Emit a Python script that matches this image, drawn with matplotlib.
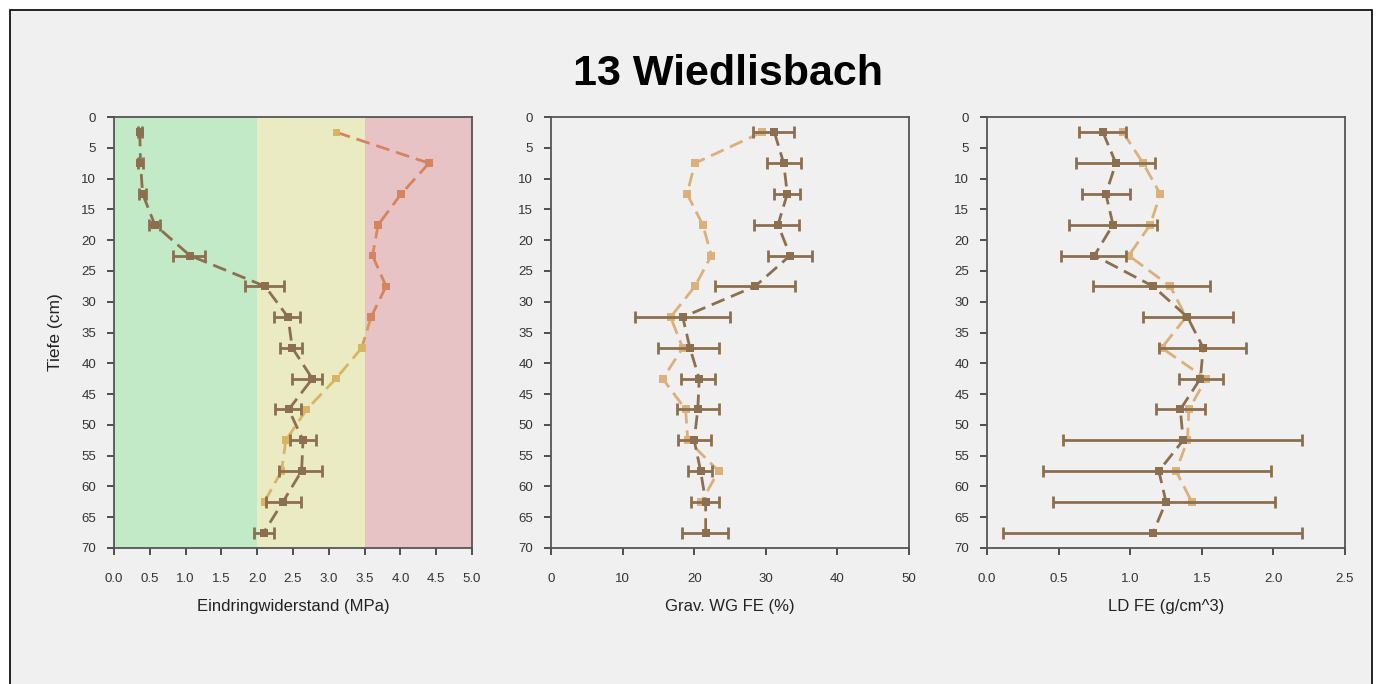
import numpy as np
import matplotlib
matplotlib.use("Agg")
import matplotlib.pyplot as plt
from matplotlib.collections import LineCollection
from matplotlib.colors import LinearSegmentedColormap, Normalize
from matplotlib.patches import Rectangle

plt.rcParams['font.family'] = ['Liberation Sans', 'DejaVu Sans']

title = "13 Wiedlisbach"
depth = [2.5, 7.5, 12.5, 17.5, 22.5, 27.5, 32.5, 37.5, 42.5, 47.5, 52.5, 57.5, 62.5, 67.5]

# Panel 1: Eindringwiderstand (MPa)
ew_mean = [0.36, 0.37, 0.40, 0.57, 1.06, 2.11, 2.43, 2.49, 2.77, 2.44, 2.64, 2.62, 2.36, 2.09]
ew_lo = [0.33, 0.34, 0.35, 0.49, 0.82, 1.83, 2.23, 2.32, 2.48, 2.25, 2.46, 2.31, 2.12, 1.95]
ew_hi = [0.39, 0.40, 0.45, 0.64, 1.27, 2.37, 2.60, 2.63, 2.91, 2.61, 2.82, 2.90, 2.61, 2.23]
ew_ref = [3.11, 4.40, 4.01, 3.69, 3.61, 3.80, 3.59, 3.46, 3.10, 2.69, 2.40, 2.34, 2.10]
ew_bands = [0.0, 2.0, 3.5, 5.0]
ew_band_colors = ["#c3eac7", "#ebebc3", "#e7c3c5"]

# Panel 2: Grav. WG FE (%)
wg_mean = [31.2, 32.5, 33.0, 31.7, 33.4, 28.5, 18.4, 19.4, 20.7, 20.5, 20.0, 20.9, 21.6, 21.6]
wg_lo = [28.2, 30.1, 31.1, 28.4, 30.3, 22.9, 11.7, 14.9, 18.1, 17.6, 17.7, 19.2, 19.5, 18.3]
wg_hi = [34.0, 34.9, 34.8, 34.7, 36.5, 34.1, 25.0, 23.5, 22.9, 23.4, 22.4, 22.5, 23.5, 24.7]
wg_ref = [29.4, 20.1, 19.0, 21.2, 22.4, 20.1, 16.7, 18.4, 15.6, 18.8, 19.1, 23.4, 21.0]

# Panel 3: LD FE (g/cm^3)
ld_mean = [0.81, 0.90, 0.83, 0.88, 0.75, 1.16, 1.40, 1.51, 1.49, 1.35, 1.37, 1.20, 1.25, 1.16]
ld_lo = [0.64, 0.62, 0.66, 0.57, 0.52, 0.74, 1.09, 1.20, 1.34, 1.18, 0.53, 0.39, 0.46, 0.11]
ld_hi = [0.97, 1.17, 1.00, 1.19, 0.97, 1.56, 1.72, 1.81, 1.65, 1.52, 2.20, 1.98, 2.01, 2.20]
ld_ref = [0.95, 1.09, 1.21, 1.14, 0.99, 1.28, 1.39, 1.22, 1.53, 1.41, 1.40, 1.32, 1.43]

xlabels = ["Eindringwiderstand (MPa)", "Grav. WG FE (%)", "LD FE (g/cm^3)"]
xlims = [(0, 5.0), (0, 50), (0, 2.5)]
xticks = [np.arange(0, 5.01, 0.5), np.arange(0, 51, 10), np.arange(0, 2.51, 0.5)]
xtickfmt = ["{:.1f}", "{:.0f}", "{:.1f}"]
yticks = list(range(0, 71, 5))

DARK = "#8b6f4e"
LIGHT = "#dbb07a"
YEL = "#d9b462"
RED = "#d4845f"
BG = "#f0f0f0"

W, H = 1384, 684
fig = plt.figure(figsize=(W / 100, H / 100), dpi=100)
fig.patch.set_facecolor("white")
frame = Rectangle((9.5 / W, -0.01), (1372 - 9.5) / W, 1 - 10 / H + 0.01,
                  transform=fig.transFigure, facecolor=BG, edgecolor="black",
                  linewidth=1.2, zorder=-10)
fig.add_artist(frame)
fig.text(728 / W, 1 - 74 / H, title, ha="center", va="center",
         fontsize=31, fontweight="bold", color="black")

lefts = [114, 551, 987]
aw = 358
top, bottom = 117, 548
axes = []
for i, l in enumerate(lefts):
    ax = fig.add_axes([l / W, 1 - bottom / H, aw / W, (bottom - top) / H])
    ax.set_facecolor(BG)
    ax.set_xlim(*xlims[i])
    ax.set_ylim(70, 0)
    ax.set_xticks(xticks[i])
    ax.set_xticklabels([xtickfmt[i].format(v) for v in xticks[i]])
    ax.set_yticks(yticks)
    ax.tick_params(axis="both", direction="out", length=5, width=1.2,
                   colors="#333333", labelsize=9.5, pad=8)
    ax.tick_params(axis="x", pad=13)
    for s in ax.spines.values():
        s.set_color("#555555")
        s.set_linewidth(1.3)
    ax.set_xlabel(xlabels[i], fontsize=12, color="#222222", labelpad=10)
    axes.append(ax)

axes[0].set_ylabel("Tiefe (cm)", fontsize=12.5, color="#222222", labelpad=13)

ls = (0, (5, 2.5))

# Panel 1 background bands
ax = axes[0]
for j in range(3):
    ax.axvspan(ew_bands[j], ew_bands[j + 1], color=ew_band_colors[j], zorder=0, lw=0)

# Panel 1 reference series, colored by value
cmap = LinearSegmentedColormap.from_list("yr", [YEL, RED])
norm = Normalize(vmin=3.3, vmax=3.7)
d_ref = depth[:len(ew_ref)]
pts = np.column_stack([ew_ref, d_ref])
segs = np.stack([pts[:-1], pts[1:]], axis=1)
segvals = [(ew_ref[k] + ew_ref[k + 1]) / 2 for k in range(len(ew_ref) - 1)]
lc = LineCollection(segs, colors=[cmap(norm(v)) for v in segvals], linewidths=2,
                    linestyles=[ls], zorder=2)
ax.add_collection(lc)
ax.scatter(ew_ref, d_ref, marker="s", s=30, c=[YEL if v < 3.5 else RED for v in ew_ref],
           zorder=3, linewidths=0)

means = [ew_mean, wg_mean, ld_mean]
los = [ew_lo, wg_lo, ld_lo]
his = [ew_hi, wg_hi, ld_hi]
refs = [None, wg_ref, ld_ref]

for i, ax in enumerate(axes):
    if refs[i] is not None:
        ax.plot(refs[i], depth[:len(refs[i])], linestyle=ls, color=LIGHT, lw=2,
                marker="s", markersize=5.5, markeredgewidth=0, zorder=2)
    m = np.array(means[i])
    xerr = [m - np.array(los[i]), np.array(his[i]) - m]
    ax.errorbar(m, depth, xerr=xerr, fmt="none", ecolor=DARK, elinewidth=2,
                capsize=4.5, capthick=2, zorder=4)
    ax.plot(m, depth, linestyle=ls, color=DARK, lw=2, marker="s", markersize=5.5,
            markeredgewidth=0, zorder=5)

fig.savefig("out.png", dpi=100, facecolor=fig.get_facecolor())
